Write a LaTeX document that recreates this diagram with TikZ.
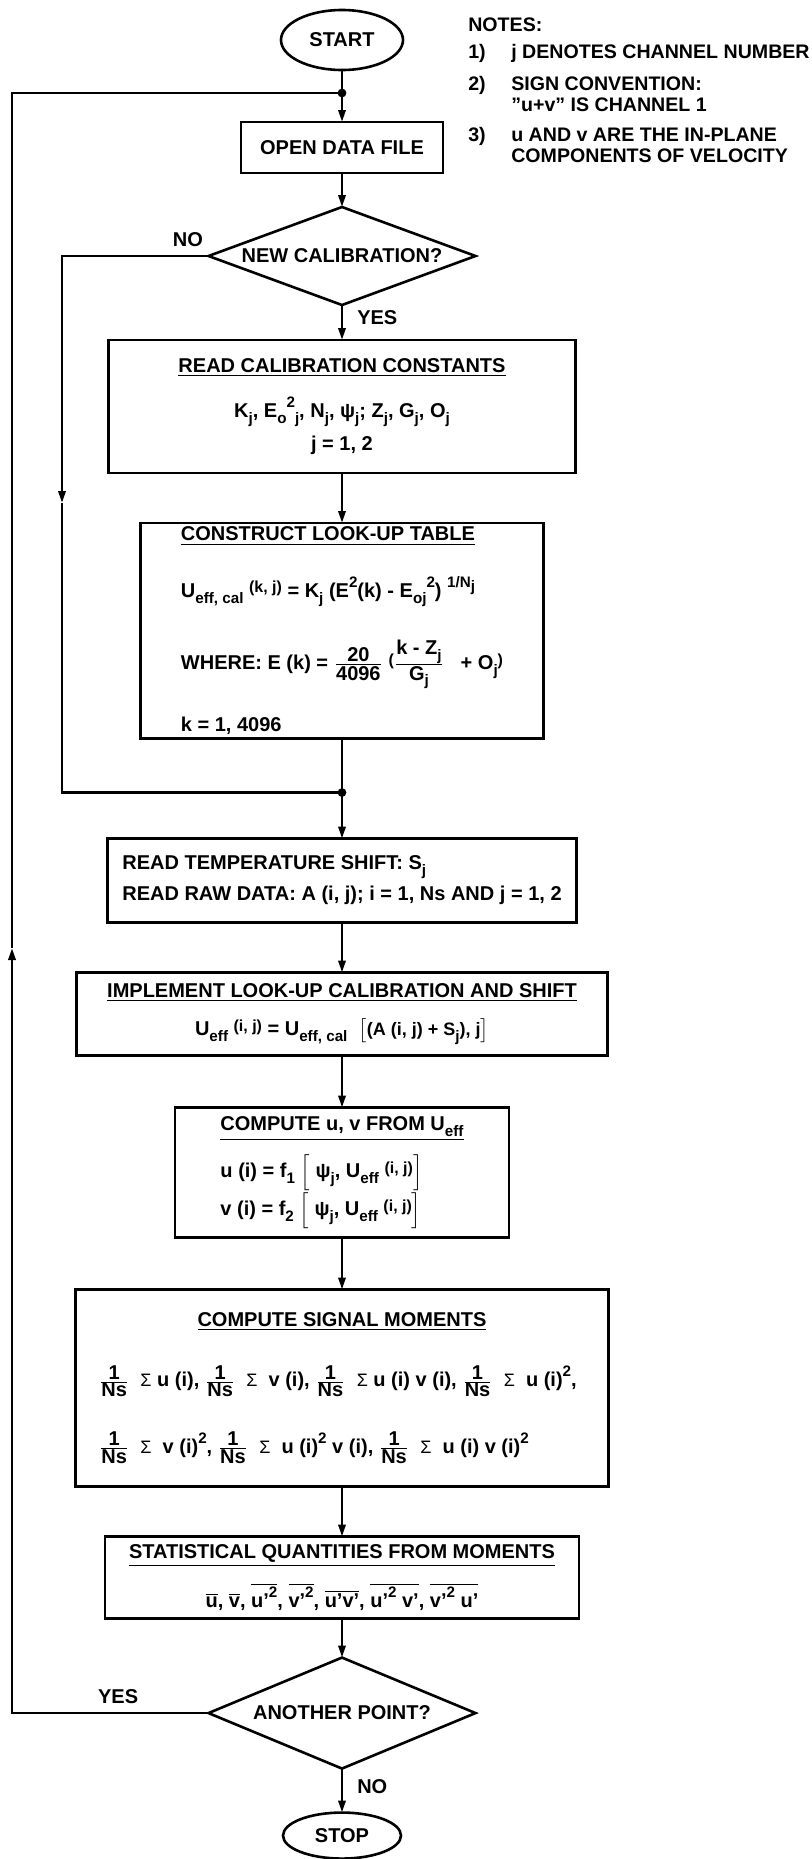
\documentclass[tikz,border=0pt]{standalone}
\usepackage{fontspec}
\setmainfont{Liberation Sans}
\usetikzlibrary{positioning,shapes.geometric,arrows.meta}

\newcommand\dn[1]{\raisebox{-.55ex}{\fontsize{7.6}{9}\selectfont #1}}
\newcommand\up[1]{\raisebox{.95ex}{\fontsize{7.6}{9}\selectfont #1}}
\newcommand\sm[1]{\raisebox{.4ex}{\footnotesize #1}}
\newcommand\fr[2]{$\frac{\mbox{#1}}{\mbox{#2}}$}
\newcommand\ov[1]{$\overline{\mbox{#1}}$}
\newcommand\sig{{\mdseries\small Σ}}

\begin{document}
\begin{tikzpicture}[x=0.5pt, y=-0.5pt, >={Triangle[length=6pt,width=3.6pt]},
  line width=1.3pt, font=\bfseries\fontsize{10}{12}\selectfont,
  proc/.style={draw, rectangle, inner sep=2pt, outer sep=0pt},
  test/.style={draw, diamond, inner sep=0pt, outer sep=0pt},
  term/.style={draw, ellipse, inner sep=0pt, outer sep=0pt, minimum width=61pt, minimum height=30pt},
  lbl/.style={inner sep=1pt}]
  \useasboundingbox (0,0) rectangle (812,1859);

  \node[term] (start) at (342,40) {START};
  \node[proc, minimum width=101pt, minimum height=25.5pt, below=26pt of start] (open) {OPEN DATA FILE};
  \node[test, aspect=2.72, minimum width=133.5pt, minimum height=49pt, below=17pt of open] (newcal) {NEW CALIBRATION?};
  \node[proc, minimum width=233.5pt, minimum height=66.5pt, below=17.5pt of newcal, align=center] (readcal)
    {\underline{READ CALIBRATION CONSTANTS}\\[9pt]
     K\dn{j}, E\dn{o}\up{2}\dn{j}, N\dn{j}, ψ\dn{j}; Z\dn{j}, G\dn{j}, O\dn{j}\\[4.5pt]
     j = 1, 2};
  \node[proc, minimum width=201.5pt, minimum height=107.5pt, below=25pt of readcal, align=left] (table)
    {\underline{CONSTRUCT LOOK-UP TABLE}\\[14.5pt]
     U\dn{eff, cal} \sm{(k, j)} = K\dn{j} (E\up{2}(k) - E\dn{oj}\up{2}) \up{1/N\dn{j}}\\[16pt]
     WHERE: E (k) = \fr{20}{4096} \sm{(}\fr{k - Z\dn{j}}{G\dn{j}} \ \ + O\dn{j}\sm{)}\\[13pt]
     k = 1, 4096};
  \node[proc, minimum width=234.5pt, minimum height=42pt, below=50pt of table, align=left] (readraw)
    {READ TEMPERATURE SHIFT: S\dn{j}\\[3.5pt]
     READ RAW DATA: A (i, j); i = 1, Ns AND j = 1, 2};
  \node[proc, minimum width=265.5pt, minimum height=41.5pt, below=25pt of readraw, align=center] (shift)
    {\underline{IMPLEMENT LOOK-UP CALIBRATION AND SHIFT}\\[7pt]
     U\dn{eff} \sm{(i, j)} = U\dn{eff, cal} \ $\big[${\small(A (i, j) + S\dn{j}), j}$\big]$};
  \node[proc, minimum width=167pt, minimum height=65pt, below=26pt of shift, align=left] (uv)
    {\underline{COMPUTE u, v FROM U\dn{eff}}\\[6pt]
     u (i) = f\dn{1} $\Big[$ ψ\dn{j}, U\dn{eff} \sm{(i, j)}$\Big]$\\[0pt]
     v (i) = f\dn{2} $\Big[$ ψ\dn{j}, U\dn{eff} \sm{(i, j)}$\Big]$};
  \node[proc, minimum width=266.5pt, minimum height=98.5pt, below=26pt of uv, align=center] (moments)
    {\underline{COMPUTE SIGNAL MOMENTS}\\[16.5pt]
     \makebox[243pt][l]{\fr{1}{Ns} \ \sig\ u (i), \fr{1}{Ns} \ \sig\ \ v (i), \fr{1}{Ns} \ \sig\ u (i) v (i), \fr{1}{Ns} \ \sig\ \ u (i)\up{2},}\\[16.5pt]
     \makebox[243pt][l]{\fr{1}{Ns} \ \sig\ \ v (i)\up{2}, \fr{1}{Ns} \ \sig\ \ u (i)\up{2} v (i), \fr{1}{Ns} \ \sig\ \ u (i) v (i)\up{2}}};
  \node[proc, minimum width=237pt, minimum height=41pt, below=25pt of moments, align=center] (stats)
    {\underline{STATISTICAL QUANTITIES FROM MOMENTS}\\[7.5pt]
     \ov{u}, \ov{v}, \ov{u'\up{2}}, \ov{v'\up{2}}, \ov{u'v'}, \ov{u'\up{2} v'}, \ov{v'\up{2} u'}};
  \node[test, aspect=2.4, minimum width=133.5pt, minimum height=55.5pt, below=19.5pt of stats] (another) {ANOTHER POINT?};
  \node[term, minimum width=59pt, minimum height=23pt, below=22pt of another] (stop) {STOP};

  \node[anchor=north west, align=left, inner sep=0pt, font=\bfseries\fontsize{9.8}{10.5}\selectfont] (notes) at (467,17)
    {NOTES:\\[3pt]
     \makebox[21.5pt][l]{1)}j DENOTES CHANNEL NUMBER\\[5.5pt]
     \makebox[21.5pt][l]{2)}SIGN CONVENTION:\\
     \hspace*{21.5pt}''u+v'' IS CHANNEL 1\\[4.5pt]
     \makebox[21.5pt][l]{3)}u AND v ARE THE IN-PLANE\\
     \hspace*{21.5pt}COMPONENTS OF VELOCITY};

  % junctions and loop arrows
  \coordinate (j1) at ([yshift=-11.5pt]start.south);
  \coordinate (j2) at ([yshift=-27pt]table.south);
  \coordinate (inarrow) at (62,503);
  \coordinate (outarrow) at (12,948);

  \draw (start) -- (j1);
  \draw[->] (j1) -- (open);
  \draw[->] (open) -- (newcal);
  \draw[->] (newcal) -- (readcal) node[lbl, pos=0.35, right=6pt] (yes1) {YES};
  \draw[->] (readcal) -- (table);
  \draw (table) -- (j2);
  \draw[->] (j2) -- (readraw);
  \draw[->] (readraw) -- (shift);
  \draw[->] (shift) -- (uv);
  \draw[->] (uv) -- (moments);
  \draw[->] (moments) -- (stats);
  \draw[->] (stats) -- (another);
  \draw[->] (another) -- (stop) node[lbl, pos=0.4, right=6pt] (no2) {NO};

  \draw[->] (newcal.west) -| (inarrow) node[lbl, pos=0.07, above=3pt] (no1) {NO};
  \draw (inarrow) |- (j2);
  \draw[->] (another.west) -| (outarrow) node[lbl, pos=0.23, above=3pt] (yes2) {YES};
  \draw (outarrow) |- (j1);
  \fill (j1) circle (2.2pt);
  \fill (j2) circle (2.2pt);
\end{tikzpicture}
\end{document}
